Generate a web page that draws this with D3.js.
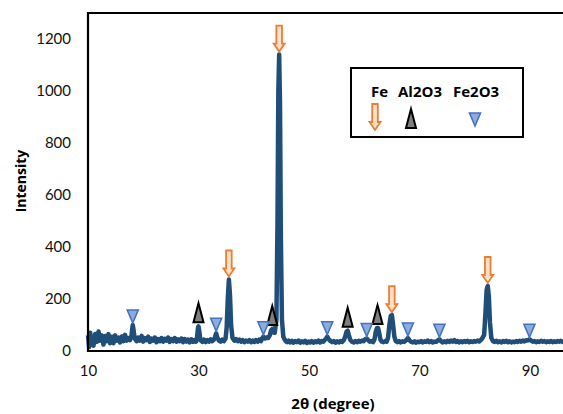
<!DOCTYPE html>
<html>
<head>
<meta charset="utf-8">
<script src="https://cdn.jsdelivr.net/npm/d3@7"></script>
<style>
  body { margin: 0; background: #fff; }
  svg { display: block; font-family: Lato, "Open Sans", sans-serif; }
</style>
</head>
<body>
<svg id="chart"></svg>
<script>
// XRD scan: [2theta, intensity]
var scan = [
  [10,60],[10.2,15],[10.4,70],[10.6,30],[10.8,55],[11,20],[11.3,65],[11.6,35],[11.9,75],[12.2,40],
  [12.5,60],[12.8,25],[13.1,58],[13.4,38],[13.7,65],[14,30],[14.3,55],[14.6,30],[14.9,60],[15.2,40],
  [15.5,52],[15.8,33],[16.1,56],[16.4,38],[16.7,62],[17,40],[17.3,50],[17.6,42],[17.85,55],[18.0,85],
  [18.1,100],[18.25,80],[18.45,48],[18.8,38],[19.1,52],[19.4,40],[19.7,58],[20,36],[20.3,50],[20.6,42],
  [20.9,55],[21.2,35],[21.5,48],[21.8,40],[22.1,52],[22.4,34],[22.7,46],[23,38],[23.3,50],[23.6,36],
  [23.9,47],[24.2,40],[24.5,52],[24.8,35],[25.1,46],[25.4,38],[25.7,50],[26,36],[26.3,45],[26.6,38],
  [26.9,48],[27.2,34],[27.5,46],[27.8,36],[28.1,44],[28.4,33],[28.7,45],[29,35],[29.3,42],[29.55,36],
  [29.75,55],[29.9,88],[30.0,95],[30.15,75],[30.35,42],[30.7,35],[31,44],[31.3,34],[31.6,42],[31.9,36],
  [32.2,45],[32.5,38],[32.8,44],[33.0,55],[33.2,68],[33.4,52],[33.7,40],[34,36],[34.3,44],[34.6,38],
  [34.9,48],[35.1,90],[35.3,200],[35.5,275],[35.7,215],[35.9,100],[36.15,50],[36.5,40],[36.8,46],[37.1,38],
  [37.4,44],[37.7,36],[38,42],[38.3,34],[38.6,40],[38.9,36],[39.2,42],[39.5,34],[39.8,40],[40.1,35],
  [40.4,42],[40.7,36],[41,44],[41.3,38],[41.5,48],[41.75,55],[42.0,48],[42.3,52],[42.6,50],[42.9,60],
  [43.15,80],[43.35,85],[43.55,72],[43.8,70],[44.1,120],[44.3,500],[44.45,1000],[44.6,1140],[44.75,950],[44.9,450],
  [45.1,120],[45.35,55],[45.7,40],[46,34],[46.3,40],[46.6,33],[46.9,39],[47.2,32],[47.5,38],[47.8,34],
  [48.1,40],[48.4,32],[48.7,37],[49,33],[49.3,39],[49.6,31],[49.9,36],[50.2,33],[50.5,38],[50.8,32],
  [51.1,37],[51.4,34],[51.7,40],[52,33],[52.3,38],[52.6,36],[52.9,44],[53.1,48],[53.3,55],[53.55,46],
  [53.9,38],[54.2,34],[54.5,38],[54.8,32],[55.1,37],[55.4,33],[55.7,38],[56,35],[56.3,42],[56.55,55],
  [56.8,75],[57.0,78],[57.2,62],[57.45,44],[57.75,36],[58.1,33],[58.4,38],[58.7,34],[59,39],[59.3,36],
  [59.6,40],[59.9,38],[60.2,46],[60.45,48],[60.7,42],[61,36],[61.3,38],[61.6,34],[61.85,45],[62.1,75],
  [62.3,88],[62.5,88],[62.7,70],[62.95,42],[63.2,36],[63.5,34],[63.8,38],[64.05,36],[64.3,50],[64.55,100],
  [64.8,135],[65.0,138],[65.2,105],[65.45,55],[65.7,38],[66,34],[66.3,38],[66.6,33],[66.9,37],[67.2,35],
  [67.5,40],[67.7,44],[67.9,50],[68.15,42],[68.5,35],[68.8,33],[69.1,37],[69.4,32],[69.7,36],[70,34],
  [70.3,38],[70.6,33],[70.9,37],[71.2,35],[71.5,40],[71.8,34],[72.1,38],[72.4,33],[72.7,36],[73,35],
  [73.3,40],[73.6,45],[73.9,38],[74.2,33],[74.5,37],[74.8,34],[75.1,39],[75.4,35],[75.7,40],[76,36],
  [76.3,42],[76.6,35],[76.9,38],[77.2,33],[77.5,37],[77.8,34],[78.1,38],[78.4,35],[78.7,39],[79,34],
  [79.3,37],[79.6,35],[79.9,38],[80.2,36],[80.5,40],[80.8,37],[81.1,42],[81.4,50],[81.7,62],[81.95,150],
  [82.15,235],[82.35,250],[82.55,210],[82.75,110],[83.0,50],[83.3,38],[83.6,35],[83.9,39],[84.2,34],[84.5,37],
  [84.8,33],[85.1,38],[85.4,35],[85.7,39],[86,34],[86.3,37],[86.6,33],[86.9,36],[87.2,34],[87.5,38],
  [87.8,35],[88.1,39],[88.4,36],[88.7,40],[89,37],[89.3,41],[89.6,40],[89.9,45],[90.2,40],[90.5,36],
  [90.8,38],[91.1,34],[91.4,37],[91.7,35],[92,39],[92.3,36],[92.6,38],[92.9,34],[93.2,37],[93.5,35],
  [93.8,38],[94.1,34],[94.4,37],[94.7,35],[95,38],[95.3,36],[95.6,39],[95.9,35],[96.2,37],[96.5,36]
];

// phase markers: [2theta, peak intensity]
var fePeaks = [[35.5,275],[44.6,1140],[65.0,138],[82.35,250]];
var al2o3Peaks = [[30.0,95],[43.35,85],[57.0,78],[62.4,88]];
var fe2o3Peaks = [[18.1,100],[33.2,68],[41.75,55],[53.3,55],[60.45,48],[67.9,50],[73.6,45],[89.9,45]];

var xTicks = [10, 30, 50, 70, 90];
var yTicks = [0, 200, 400, 600, 800, 1000, 1200];
var legendNames = ["Fe", "Al2O3", "Fe2O3"];

var W = 563, H = 414;
var margin = {top: 13, left: 88, bottom: 63};
var plotBottom = H - margin.bottom;
var boldFont = "'Open Sans', sans-serif";

var svg = d3.select("#chart").attr("width", W).attr("height", H);

var x = d3.scaleLinear().domain([10, 100]).range([margin.left, margin.left + 90 * 5.525]);
var y = d3.scaleLinear().domain([0, 1300]).range([plotBottom, margin.top]);

// frame (top + left), right side runs off the image
svg.append("line")
    .attr("x1", margin.left - 1).attr("x2", W)
    .attr("y1", margin.top).attr("y2", margin.top)
    .attr("stroke", "#000").attr("stroke-width", 2);

// the scan
var valueline = d3.line()
    .x(function(d) { return x(d[0]); })
    .y(function(d) { return y(d[1]); });

svg.append("path")
    .datum(scan)
    .attr("fill", "none")
    .attr("stroke", "#1f4e79")
    .attr("stroke-width", 4.5)
    .attr("stroke-linejoin", "round")
    .attr("d", valueline);

// axes
var xAxis = svg.append("g")
    .attr("transform", "translate(0," + plotBottom + ")")
    .call(d3.axisBottom(x).tickValues(xTicks).tickSize(0).tickPadding(14));
xAxis.select(".domain").attr("stroke", "#000").attr("stroke-width", 2.2)
    .attr("d", "M" + (margin.left - 1) + ",0H" + W);
xAxis.selectAll("text").attr("font-size", 15).attr("fill", "#111")
    .attr("font-family", "Lato, 'Open Sans', sans-serif");

var yAxis = svg.append("g")
    .attr("transform", "translate(" + margin.left + ",0)")
    .call(d3.axisLeft(y).tickValues(yTicks).tickFormat(d3.format("d")).tickSize(0).tickPadding(17));
yAxis.select(".domain").attr("stroke", "#000").attr("stroke-width", 2.2)
    .attr("d", "M0," + (margin.top - 1) + "V" + (plotBottom + 1));
yAxis.selectAll("text").attr("font-size", 15).attr("fill", "#111")
    .attr("font-family", "Lato, 'Open Sans', sans-serif");

// axis titles
svg.append("text")
    .attr("transform", "translate(26,181) rotate(-90)")
    .attr("text-anchor", "middle")
    .attr("font-family", boldFont)
    .attr("font-size", 14).attr("font-weight", "bold")
    .text("Intensity");

svg.append("text")
    .attr("x", 333).attr("y", 409)
    .attr("text-anchor", "middle")
    .attr("font-family", boldFont)
    .attr("font-size", 15).attr("font-weight", "bold")
    .text("2θ (degree)");

// marker shapes, drawn around (0,0) = point that touches the peak
function arrowPath() {
  return "M-2.8,-27 H2.8 V-9 H5.5 L0,-1 L-5.5,-9 H-2.8 Z";
}
function triPath() {
  return "M0,-21 L5,-2 L-5,-2 Z";
}
function invTriPath() {
  return "M-5.5,-13 H5.5 L0,0 Z";
}

function drawArrow(g) {
  g.append("path").attr("d", arrowPath())
    .attr("fill", "#fbe0cc").attr("stroke", "#ed7d31").attr("stroke-width", 1.8);
}
function drawTri(g) {
  g.append("path").attr("d", triPath())
    .attr("fill", "#7f7f7f").attr("stroke", "#000").attr("stroke-width", 2)
    .attr("stroke-linejoin", "miter");
}
function drawInvTri(g) {
  g.append("path").attr("d", invTriPath())
    .attr("fill", "#8faadc").attr("stroke", "#4472c4").attr("stroke-width", 1.6);
}

svg.selectAll(".fe").data(fePeaks).enter().append("g")
    .attr("transform", function(d) { return "translate(" + x(d[0]) + "," + (y(d[1]) - 2) + ")"; })
    .each(function() { drawArrow(d3.select(this)); });

svg.selectAll(".al").data(al2o3Peaks).enter().append("g")
    .attr("transform", function(d) { return "translate(" + x(d[0]) + "," + (y(d[1]) - 2) + ")"; })
    .each(function() { drawTri(d3.select(this)); });

svg.selectAll(".fe2").data(fe2o3Peaks).enter().append("g")
    .attr("transform", function(d) { return "translate(" + x(d[0]) + "," + (y(d[1]) - 2) + ")"; })
    .each(function() { drawInvTri(d3.select(this)); });

// legend box
var legend = svg.append("g");
legend.append("rect")
    .attr("x", 351).attr("y", 68).attr("width", 172).attr("height", 69)
    .attr("fill", "#fff").attr("stroke", "#000").attr("stroke-width", 2);

var legendX = [371, 398, 453];
legend.selectAll("text").data(legendNames).enter().append("text")
    .attr("x", function(d, i) { return legendX[i]; })
    .attr("y", 97)
    .attr("font-family", boldFont)
    .attr("font-size", 15).attr("font-weight", "bold")
    .text(function(d) { return d; });

drawArrow(legend.append("g").attr("transform", "translate(375,131)"));
drawTri(legend.append("g").attr("transform", "translate(411,130)"));
drawInvTri(legend.append("g").attr("transform", "translate(475,126)"));
</script>
</body>
</html>
